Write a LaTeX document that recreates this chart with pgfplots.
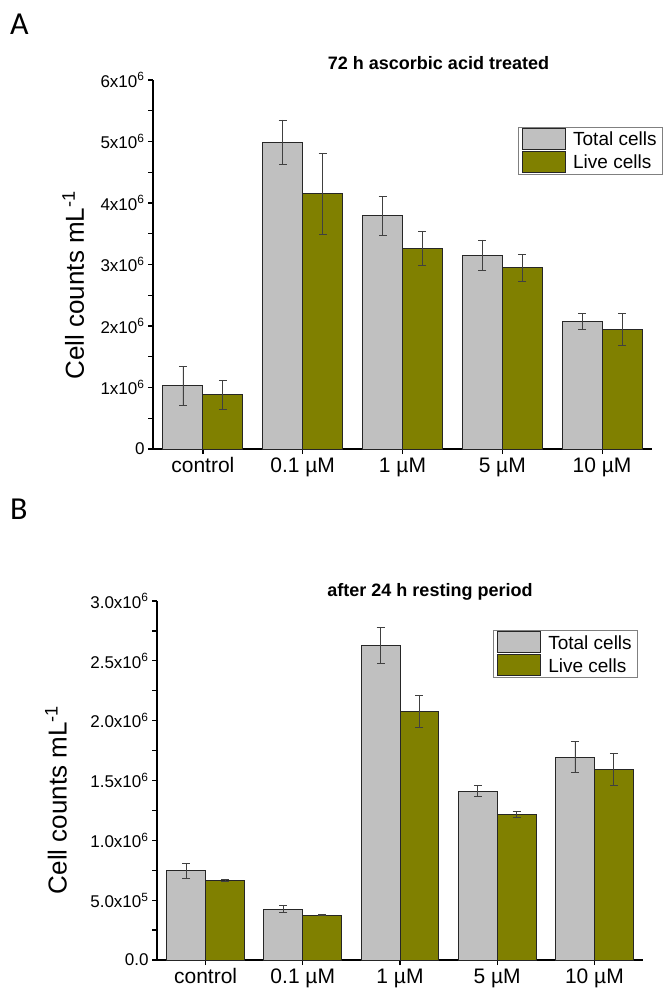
\documentclass[border=0pt]{standalone}
\usepackage{fontspec}
\setmainfont{Liberation Sans}
\newfontfamily\panelfont{Carlito}
\usepackage{pgfplots}
\pgfplotsset{compat=1.18}

\definecolor{totalc}{HTML}{C0C0C0}
\definecolor{livec}{HTML}{808000}
\definecolor{errc}{HTML}{404040}

\pgfplotsset{
  cellbars/.style={
    scale only axis,
    ybar=0pt,
    bar width=0.4,
    xmin=-0.5, xmax=4.5,
    ymin=0,
    axis lines=left,
    axis line style={-, line width=1.4bp, black},
    tick align=outside,
    major tick length=5bp,
    minor tick length=5bp,
    tick style={line width=1.2bp, black},
    xtick={0,1,2,3,4},
    xticklabels={control, 0.1 µM, 1 µM, 5 µM, 10 µM},
    x tick label style={font=\fontsize{21bp}{23bp}\selectfont, text height=15bp, text depth=5bp},
    y tick label style={font=\fontsize{17bp}{19bp}\selectfont},
    /pgf/number format/assume math mode=true,
    minor y tick num=1,
    ylabel={Cell counts mL\textsuperscript{-1}},
    ylabel style={font=\fontsize{26bp}{30bp}\selectfont, anchor=center},
    title style={font=\bfseries\fontsize{18bp}{20bp}\selectfont, anchor=center},
    legend cell align=left,
    legend image code/.code={\draw[#1, line width=1bp] (0bp,-10bp) rectangle (43bp,11bp);},
    legend style={font=\fontsize{19bp}{21bp}\selectfont, draw=gray, line width=0.8bp,
      anchor=north east, inner xsep=4bp, inner ysep=1bp, row sep=1bp,
      nodes={inner sep=2bp},
      /tikz/every odd column/.append style={column sep=5bp}},
    error bars/y dir=both,
    error bars/y explicit,
    error bars/error bar style={line width=0.8bp, errc},
    error bars/error mark options={rotate=90, line width=0.8bp, errc, mark size=4bp},
  },
  totalbar/.style={draw=black!85, line width=1bp, fill=totalc},
  livebar/.style={draw=black!85, line width=1bp, fill=livec},
}

\begin{document}
\begin{tikzpicture}
\useasboundingbox (0,0) rectangle (664bp,-989bp);

\node[anchor=north west, inner sep=0pt, font=\panelfont\fontsize{32bp}{34bp}\selectfont] at (10bp,-14bp) {A};
\node[anchor=north west, inner sep=0pt, font=\panelfont\fontsize{32bp}{34bp}\selectfont] at (10bp,-499bp) {B};

% panel A
\begin{axis}[cellbars,
  at={(153bp,-449bp)}, anchor=south west,
  width=499bp, height=369bp,
  ymax=6,
  ytick={0,1,2,3,4,5,6},
  yticklabels={0, \mbox{1x10\textsuperscript{6}}, \mbox{2x10\textsuperscript{6}}, \mbox{3x10\textsuperscript{6}}, \mbox{4x10\textsuperscript{6}}, \mbox{5x10\textsuperscript{6}}, \mbox{6x10\textsuperscript{6}}},
  ylabel style={at={(axis description cs:-0.160,0.444)}},
  title={72 h ascorbic acid treated},
  title style={at={(0.5,1)}, anchor=center, xshift=36bp, yshift=11bp},
  legend style={at={(1.022,0.873)}},
]
\addplot[totalbar] coordinates {
  (0,1.03) +- (0,0.32)
  (1,4.99) +- (0,0.36)
  (2,3.79) +- (0,0.32)
  (3,3.15) +- (0,0.25)
  (4,2.07) +- (0,0.13)
};
\addplot[livebar] coordinates {
  (0,0.88) +- (0,0.23)
  (1,4.15) +- (0,0.66)
  (2,3.26) +- (0,0.28)
  (3,2.95) +- (0,0.22)
  (4,1.94) +- (0,0.26)
};
\legend{Total cells, Live cells}
\end{axis}

% panel B
\begin{axis}[cellbars,
  at={(157bp,-960bp)}, anchor=south west,
  width=486bp, height=359bp,
  ymax=3,
  ytick={0,0.5,1,1.5,2,2.5,3},
  yticklabels={0.0, \mbox{5.0x10\textsuperscript{5}}, \mbox{1.0x10\textsuperscript{6}}, \mbox{1.5x10\textsuperscript{6}}, \mbox{2.0x10\textsuperscript{6}}, \mbox{2.5x10\textsuperscript{6}}, \mbox{3.0x10\textsuperscript{6}}},
  ylabel style={at={(axis description cs:-0.208,0.446)}},
  title={after 24 h resting period},
  title style={at={(0.5,1)}, anchor=center, xshift=30bp, yshift=3bp},
  legend style={at={(0.99,0.919)}},
]
\addplot[totalbar] coordinates {
  (0,0.744) +- (0,0.06)
  (1,0.426) +- (0,0.028)
  (2,2.627) +- (0,0.15)
  (3,1.412) +- (0,0.045)
  (4,1.696) +- (0,0.13)
};
\addplot[livebar] coordinates {
  (0,0.666) +- (0,0.01)
  (1,0.373) +- (0,0.004)
  (2,2.078) +- (0,0.13)
  (3,1.214) +- (0,0.025)
  (4,1.593) +- (0,0.135)
};
\legend{Total cells, Live cells}
\end{axis}
\end{tikzpicture}
\end{document}
